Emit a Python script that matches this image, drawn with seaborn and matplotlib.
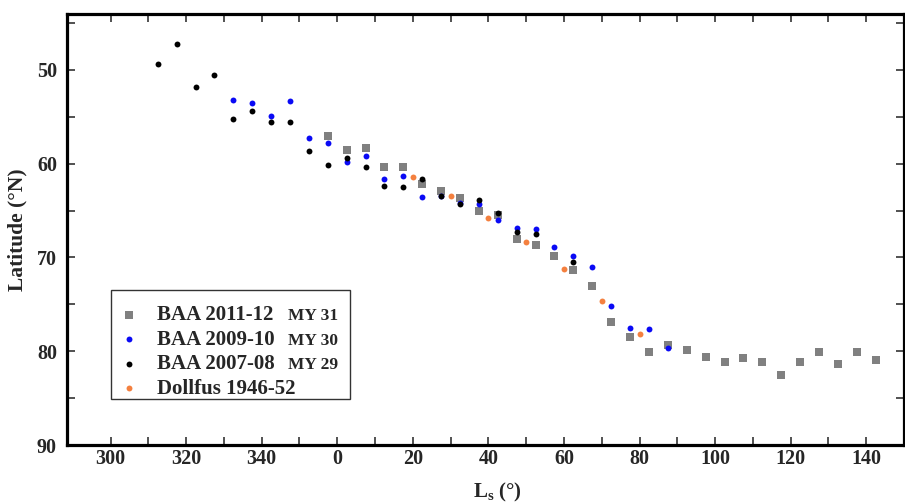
import pandas as pd
import matplotlib
matplotlib.use("Agg")
import matplotlib.pyplot as plt
import seaborn as sns
from matplotlib.patches import Rectangle
from matplotlib.ticker import FixedLocator, FuncFormatter

# -------------------------------
# Data (Ls in degrees, latitude in degrees N)
# -------------------------------
ls_2011 = [357.5, 2.5, 7.5, 12.5, 17.5, 22.5, 27.5, 32.5, 37.5, 42.5, 47.5, 52.5,
           57.5, 62.5, 67.5, 72.5, 77.5, 82.5, 87.5, 92.5, 97.5, 102.5, 107.5,
           112.5, 117.5, 122.5, 127.5, 132.5, 137.5, 142.5]
lat_2011 = [57.1, 58.5, 58.3, 60.4, 60.4, 62.2, 62.9, 63.7, 65.1, 65.5, 68.0, 68.7,
            69.9, 71.3, 73.1, 76.9, 78.5, 80.1, 79.3, 79.9, 80.6, 81.1, 80.7,
            81.1, 82.5, 81.1, 80.1, 81.4, 80.1, 80.9]

ls_2009 = [332.5, 337.5, 342.5, 347.5, 352.5, 357.5, 2.5, 7.5, 12.5, 17.5, 22.5,
           27.5, 32.5, 37.5, 42.5, 47.5, 52.5, 57.5, 62.5, 67.5, 72.5, 77.5, 82.5, 87.5]
lat_2009 = [53.2, 53.5, 54.9, 53.3, 57.3, 57.8, 59.8, 59.2, 61.6, 61.3, 63.6,
            63.5, 64.2, 64.3, 66.0, 66.9, 67.0, 68.9, 69.9, 71.0, 75.2, 77.5, 77.6, 79.7]

ls_2007 = [312.5, 317.5, 322.5, 327.5, 332.5, 337.5, 342.5, 347.5, 352.5, 357.5,
           2.5, 7.5, 12.5, 17.5, 22.5, 27.5, 32.5, 37.5, 42.5, 47.5, 52.5, 62.5]
lat_2007 = [49.4, 47.2, 51.8, 50.6, 55.2, 54.4, 55.6, 55.6, 58.7, 60.2,
            59.4, 60.4, 62.4, 62.5, 61.6, 63.5, 64.3, 63.9, 65.3, 67.3, 67.5, 70.5]

ls_dollfus = [20, 30, 40, 50, 60, 70, 80]
lat_dollfus = [61.4, 63.5, 65.8, 68.4, 71.2, 74.7, 78.2]

series_names = ["BAA 2011-12", "BAA 2009-10", "BAA 2007-08", "Dollfus 1946-52"]
mars_years = ["MY 31", "MY 30", "MY 29", None]


def unwrap(ls):
    # late-year Ls (300-360) sits left of zero on the axis
    return [v - 360 if v > 180 else v for v in ls]


frames = []
for name, ls, lat in zip(series_names,
                         [ls_2011, ls_2009, ls_2007, ls_dollfus],
                         [lat_2011, lat_2009, lat_2007, lat_dollfus]):
    frames.append(pd.DataFrame({"Ls": unwrap(ls), "Latitude": lat, "Series": name}))
df = pd.concat(frames, ignore_index=True)

# -------------------------------
# Style
# -------------------------------
sns.set_style("ticks")
plt.rcParams["font.family"] = ["Liberation Serif", "DejaVu Serif"]
plt.rcParams["font.weight"] = "bold"
plt.rcParams["mathtext.fontset"] = "custom"
plt.rcParams["mathtext.rm"] = "Liberation Serif:bold"
plt.rcParams["mathtext.it"] = "Liberation Serif:bold"
plt.rcParams["mathtext.bf"] = "Liberation Serif:bold"

styles = {
    "BAA 2011-12": dict(marker="s", s=27, color="#808080"),
    "BAA 2009-10": dict(marker="o", s=18, color="#0a0af5"),
    "BAA 2007-08": dict(marker="o", s=18, color="#000000"),
    "Dollfus 1946-52": dict(marker="o", s=18, color="#f4803f"),
}

W, H = 905, 504
fig = plt.figure(figsize=(W / 100, H / 100), dpi=100)
ax_l, ax_r, ax_t, ax_b = 66.7, 904, 14, 445
ax = fig.add_axes([ax_l / W, 1 - ax_b / H, (ax_r - ax_l) / W, (ax_b - ax_t) / H])

for name in series_names:
    sub = df[df["Series"] == name]
    sns.scatterplot(data=sub, x="Ls", y="Latitude", label=name, linewidth=0,
                    ax=ax, **styles[name])

ax.set_xlim(-71.6, 150)
ax.set_ylim(90, 44.05)

ax.xaxis.set_major_locator(FixedLocator(list(range(-60, 141, 20))))
ax.xaxis.set_minor_locator(FixedLocator(list(range(-50, 131, 20))))
ax.xaxis.set_major_formatter(FuncFormatter(lambda v, p: f"{int(round(v)) % 360}"))
ax.yaxis.set_major_locator(FixedLocator([50, 60, 70, 80, 90]))
ax.yaxis.set_minor_locator(FixedLocator([45, 55, 65, 75, 85]))

ax.tick_params(which="both", direction="in", length=5.8, width=1.1,
               top=True, right=True, labelsize=14.5, color="#222222")
ax.tick_params(axis="x", which="major", pad=3)
ax.tick_params(axis="y", which="major", pad=7)
for side in ax.spines.values():
    side.set_linewidth(2.3)
    side.set_color("black")

ax.set_xlabel(r"L$_\mathrm{s}$ (°)", fontsize=15, fontweight="bold")
ax.set_ylabel("Latitude (°N)", fontsize=15.5, fontweight="bold")
ax.xaxis.set_label_coords((497 - ax_l) / (ax_r - ax_l), (ax_b - 481) / (ax_b - ax_t))
ax.yaxis.set_label_coords((27 - ax_l) / (ax_r - ax_l), 0.5)

# -------------------------------
# Legend in a plain box, with Mars years in smaller type
# -------------------------------
box = Rectangle(((110.7 - ax_l) / (ax_r - ax_l), (ax_b - 399) / (ax_b - ax_t)),
                (350 - 110.7) / (ax_r - ax_l), (399 - 290) / (ax_b - ax_t),
                transform=ax.transAxes, facecolor="white", edgecolor="#333333",
                linewidth=1.0, zorder=4)
ax.add_patch(box)

leg = ax.legend(loc="upper left",
                bbox_to_anchor=((118.3 - ax_l) / (ax_r - ax_l), (ax_b - 305.5) / (ax_b - ax_t)),
                frameon=False, borderpad=0, borderaxespad=0, handlelength=1.0,
                handletextpad=0.875, labelspacing=0.21,
                prop={"weight": "bold", "size": 15})
leg.set_zorder(5)

fig.canvas.draw()
for txt, my in zip(leg.get_texts(), mars_years):
    if my is None:
        continue
    x_disp, y_disp = txt.get_transform().transform(txt.get_position())
    fig.text(288.3 / W, y_disp / fig.bbox.height, my, fontsize=12.5,
             fontweight="bold", va="baseline", ha="left", zorder=6)

fig.savefig("out.png", dpi=100)
